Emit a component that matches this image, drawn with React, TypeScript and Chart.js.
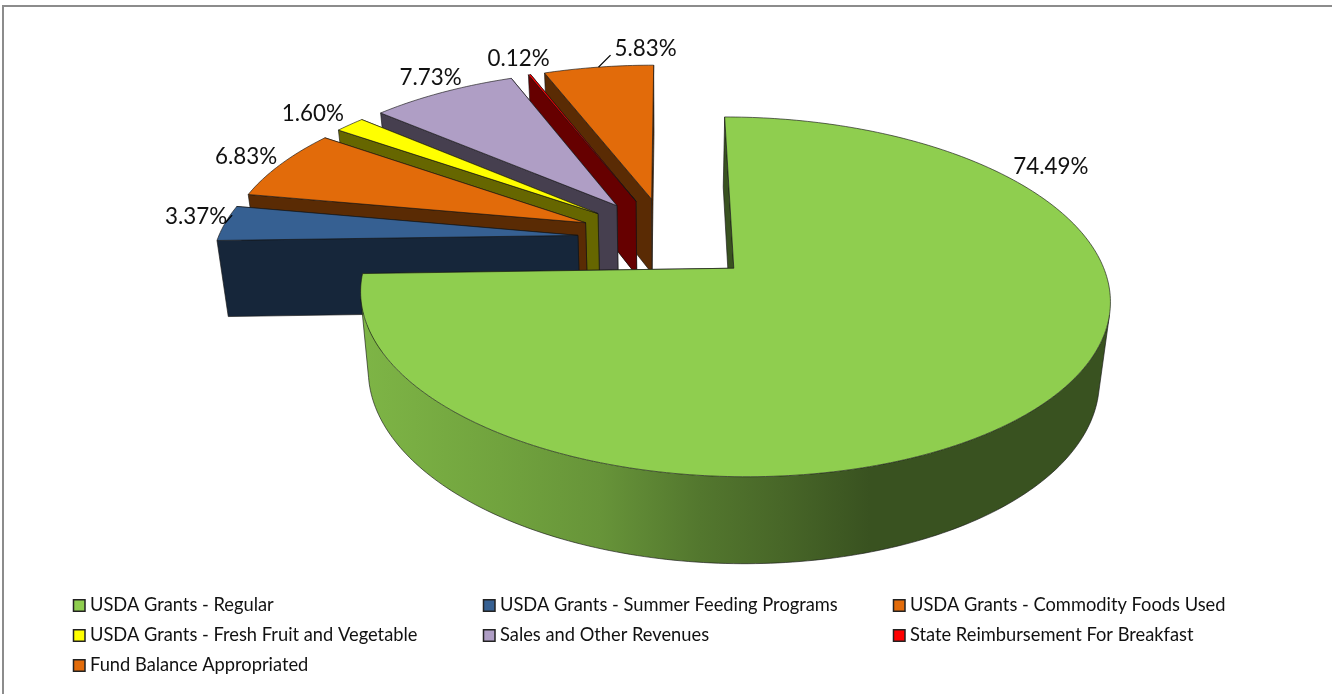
import React, { useEffect, useRef } from "react";
import { Chart, registerables } from "chart.js";

Chart.register(...registerables);

const categories = [
  "USDA Grants - Regular",
  "USDA Grants - Summer Feeding Programs",
  "USDA Grants - Commodity Foods Used",
  "USDA Grants - Fresh Fruit and Vegetable",
  "Sales and Other Revenues",
  "State Reimbursement For Breakfast",
  "Fund Balance Appropriated",
];
const shares = [74.49, 3.37, 6.83, 1.6, 7.73, 0.12, 5.83];
const sliceColors = ["#8FCE4F", "#366092", "#E26B0A", "#FFFF00", "#AF9EC5", "#FF0000", "#E26B0A"];

const FONT = "Lato";

// 3D view of the pie: perspective disc, seen from above and in front
const view = {
  explode: 0.25,
  cx: 667.4,
  cy: 238.5,
  a: 360,
  b: 166,
  k: 0.155,
  scaleBottom: 0.975,
  depth: 76,
};

const wallShade: [number, number][] = [
  [360, 0.88],
  [500, 0.79],
  [600, 0.72],
  [700, 0.58],
  [780, 0.5],
  [870, 0.4],
  [1110, 0.4],
];

const labelNudge: [number, number][] = [
  [10, -239],
  [-29, -6],
  [-35, -7],
  [-37, -11],
  [-12, -15],
  [-11, -16],
  [47, -18],
];
const leaderTo: ([number, number] | null)[] = [null, [7, -8], null, null, null, null, [12, -12]];

const legendLayout = { columns: [73.5, 483.5, 893.5], rows: [605.5, 635.5, 665.5], textGap: 16.5, box: 11.5 };

function shade(hex: string, f: number) {
  const n = parseInt(hex.slice(1), 16);
  const c = [(n >> 16) & 255, (n >> 8) & 255, n & 255].map((x) => Math.round(x * f));
  return `rgb(${c[0]},${c[1]},${c[2]})`;
}

function project(u: number, v: number, bottom: boolean): [number, number] {
  const w = 1 + view.k * v;
  const x = (view.a * u) / w;
  const y = (-view.b * v) / w;
  if (!bottom) return [view.cx + x, view.cy + y];
  return [view.cx + view.scaleBottom * x, view.cy + view.scaleBottom * y + view.depth / w];
}

const pie3d = {
  id: "pie3d",
  beforeDraw(chart: any) {
    const { ctx, width, height } = chart;
    ctx.save();
    ctx.fillStyle = "#fff";
    ctx.fillRect(0, 0, width, height);
    ctx.strokeStyle = "#8c8c8c";
    ctx.lineWidth = 2;
    ctx.beginPath();
    ctx.moveTo(3, height + 2);
    ctx.lineTo(3, 6);
    ctx.lineTo(width + 2, 6);
    ctx.stroke();
    ctx.restore();
  },
  beforeDatasetsDraw(chart: any) {
    const { ctx } = chart;
    const arcs = chart.getDatasetMeta(0).data;
    const pts = (arc: any, bottom: boolean) => {
      const mid = (arc.startAngle + arc.endAngle) / 2;
      const ox = view.explode * Math.cos(mid);
      const oy = -view.explode * Math.sin(mid);
      const steps = Math.max(2, Math.ceil(((arc.endAngle - arc.startAngle) * 180) / Math.PI));
      const out: [number, number][] = [];
      for (let i = 0; i <= steps; i++) {
        const a = arc.startAngle + ((arc.endAngle - arc.startAngle) * i) / steps;
        out.push(project(ox + Math.cos(a), oy - Math.sin(a), bottom));
      }
      return { out, apex: project(ox, oy, bottom) };
    };
    const poly = (p: [number, number][]) => {
      ctx.beginPath();
      p.forEach(([x, y], i) => (i ? ctx.lineTo(x, y) : ctx.moveTo(x, y)));
      ctx.closePath();
    };
    const line = (p: [number, number][]) => {
      ctx.beginPath();
      p.forEach(([x, y], i) => (i ? ctx.lineTo(x, y) : ctx.moveTo(x, y)));
      ctx.stroke();
    };
    const edge = "rgba(20,20,20,0.8)";
    ctx.save();
    ctx.lineJoin = "round";
    ctx.lineWidth = 0.8;
    const order = arcs.map((_: any, i: number) => i).slice(1).reverse().concat([0]);
    for (const i of order) {
      const arc = arcs[i];
      const base = sliceColors[i];
      const top = pts(arc, false);
      const bot = pts(arc, true);
      const n = top.out.length - 1;
      const dark = shade(base, 0.4);
      const side = (idx: number) => {
        poly([top.apex, top.out[idx], bot.out[idx], bot.apex]);
        ctx.fillStyle = dark;
        ctx.strokeStyle = edge;
        ctx.fill();
        ctx.stroke();
      };
      // radial faces turned away from the viewer go behind the outer wall
      const startFront = Math.sin(arc.startAngle - Math.PI / 2) > -0.05;
      const endFront = Math.sin(arc.endAngle + Math.PI / 2) > -0.05;
      if (!startFront) side(0);
      if (!endFront) side(n);
      // outer wall: only the part that faces the viewer, as one path
      const g = ctx.createLinearGradient(360, 0, 1110, 0);
      wallShade.forEach(([x, f]) => g.addColorStop((x - 360) / 750, shade(base, f)));
      const front: number[] = [];
      for (let s = 0; s < n; s++) {
        const rx = bot.out[s][0] - top.out[s][0];
        const ry = bot.out[s][1] - top.out[s][1];
        const tx = top.out[s + 1][0] - top.out[s][0];
        const ty = top.out[s + 1][1] - top.out[s][1];
        if (rx * ty - ry * tx > 0) front.push(s);
      }
      if (front.length) {
        const a = front[0];
        const b = front[front.length - 1] + 1;
        const tops = top.out.slice(a, b + 1);
        const bots = bot.out.slice(a, b + 1);
        poly([...tops, ...bots.slice().reverse()]);
        ctx.fillStyle = g;
        ctx.strokeStyle = edge;
        ctx.fill();
        line([tops[0], ...bots, tops[tops.length - 1]]);
      }
      if (endFront) side(n);
      if (startFront) side(0);
      poly([top.apex, ...top.out]);
      ctx.fillStyle = base;
      ctx.strokeStyle = edge;
      ctx.fill();
      ctx.stroke();
    }
    ctx.restore();
    return false;
  },
  afterDraw(chart: any) {
    const { ctx } = chart;
    const arcs = chart.getDatasetMeta(0).data;
    ctx.save();
    ctx.fillStyle = "#111";
    ctx.textAlign = "center";
    ctx.textBaseline = "middle";
    ctx.font = `22.4px ${FONT}`;
    arcs.forEach((arc: any, i: number) => {
      const mid = (arc.startAngle + arc.endAngle) / 2;
      const r = 1 + view.explode;
      const [x, y] = project(r * Math.cos(mid), -r * Math.sin(mid), false);
      const lead = leaderTo[i];
      if (lead) {
        ctx.strokeStyle = "#000";
        ctx.lineWidth = 1.3;
        ctx.beginPath();
        ctx.moveTo(x, y);
        ctx.lineTo(x + lead[0], y + lead[1]);
        ctx.stroke();
      }
      ctx.fillText(`${shares[i].toFixed(2)}%`, x + labelNudge[i][0], y + labelNudge[i][1]);
    });
    ctx.textAlign = "left";
    ctx.font = `18.3px ${FONT}`;
    categories.forEach((name, i) => {
      const cx = legendLayout.columns[i % 3];
      const cy = legendLayout.rows[Math.floor(i / 3)];
      const s = legendLayout.box;
      ctx.fillStyle = sliceColors[i];
      ctx.fillRect(cx, cy - s / 2, s, s);
      ctx.strokeStyle = "#222";
      ctx.lineWidth = 1.5;
      ctx.strokeRect(cx, cy - s / 2, s, s);
      ctx.fillStyle = "#111";
      ctx.fillText(name, cx + legendLayout.textGap, cy);
    });
    ctx.restore();
  },
};

export default function App() {
  const ref = useRef<HTMLCanvasElement | null>(null);
  useEffect(() => {
    const chart = new Chart(ref.current as HTMLCanvasElement, {
      type: "pie",
      data: {
        labels: categories,
        datasets: [{ data: shares, backgroundColor: sliceColors }],
      },
      options: {
        responsive: false,
        animation: false,
        devicePixelRatio: 1,
        plugins: { legend: { display: false }, tooltip: { enabled: false } },
      },
      plugins: [pie3d],
    } as any);
    return () => chart.destroy();
  }, []);
  return (
    <div style={{ position: "absolute", left: 0, top: 0, width: 1332, height: 694 }}>
      <canvas ref={ref} width={1332} height={694} style={{ display: "block" }} />
    </div>
  );
}
